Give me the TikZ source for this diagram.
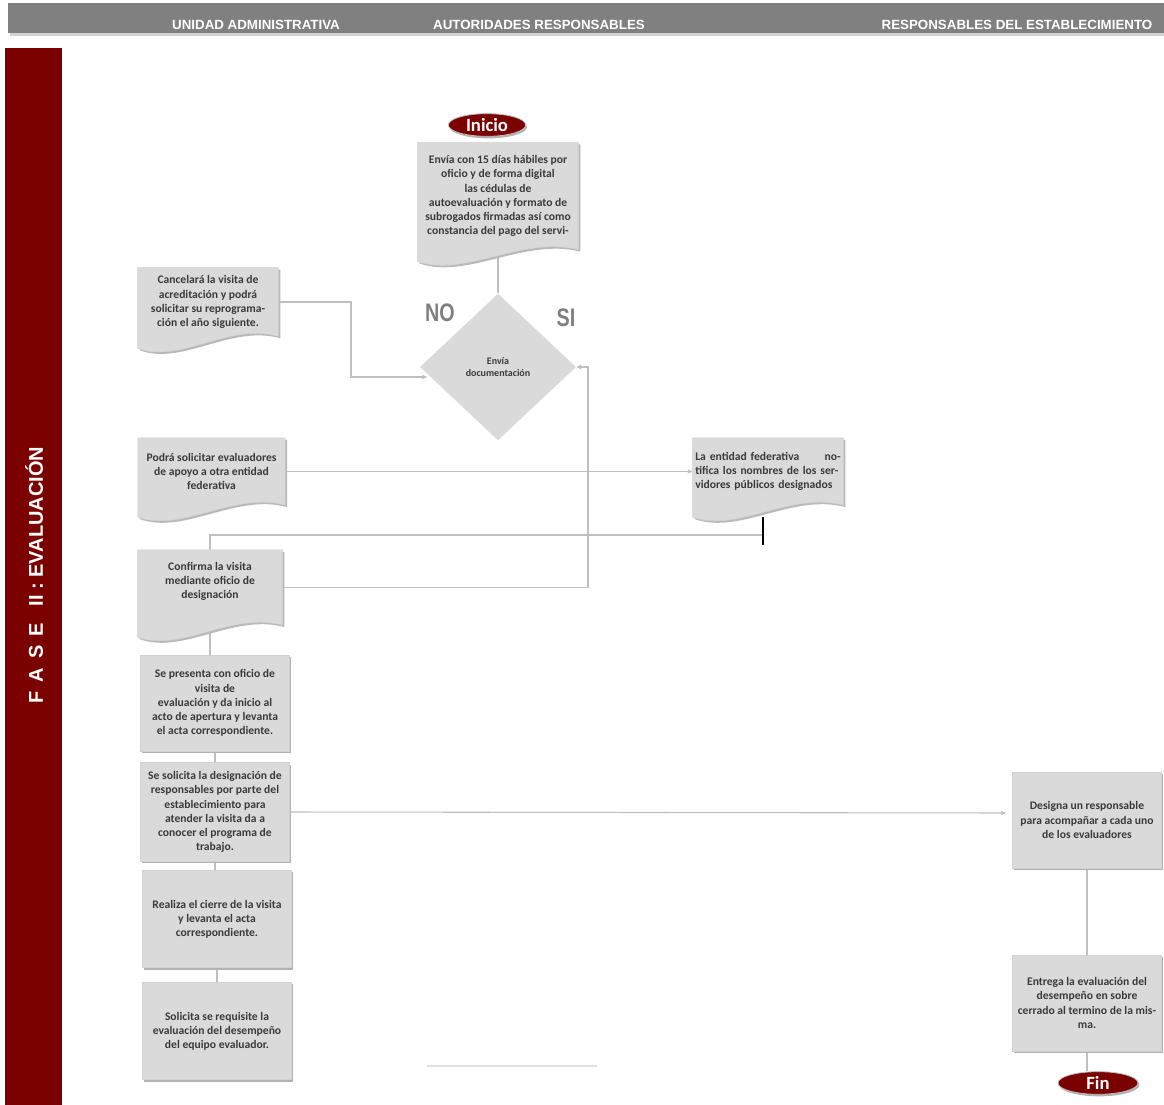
\documentclass[tikz,border=0pt]{standalone}
\usepackage{fontspec}
\setmainfont{Carlito}
\newfontfamily\hdrfont{Liberation Sans}
\usetikzlibrary{shapes.geometric,shadows,arrows.meta,calc}
\definecolor{fasered}{HTML}{7B0000}
\definecolor{boxgray}{HTML}{DADADA}
\definecolor{linegray}{HTML}{BFBFBF}
\definecolor{hdrgray}{HTML}{808080}
\definecolor{txtgray}{HTML}{3A3A3A}
\pgfdeclarelayer{conns}
\pgfdeclarelayer{docs}
\pgfsetlayers{conns,docs,main}
\tikzset{
  txt/.style={align=center, text=txtgray, inner sep=2pt,
    font=\fontsize{8.7}{10.6}\selectfont\bfseries},
  box/.style={txt, rectangle, fill=boxgray, draw=gray!35, line width=0.4pt,
    drop shadow={shadow xshift=1.2pt, shadow yshift=-1.5pt, fill=gray!60, opacity=1}},
  docbox/.style={txt, rectangle},
  term/.style={ellipse, fill=fasered, draw=gray!50, line width=0.6pt, text=white,
    font=\fontsize{14}{14}\selectfont\bfseries, minimum width=58pt, minimum height=17pt,
    inner sep=0pt, drop shadow={shadow xshift=1pt, shadow yshift=-1.5pt, fill=gray!60, opacity=1}},
  hdr/.style={text=white, font=\hdrfont\fontsize{10}{11}\selectfont\bfseries, inner sep=0pt},
  cline/.style={draw=linegray, line width=0.8pt},
  conn/.style={cline, -{Stealth[length=4pt,width=3.5pt]}},
  yn/.style={text=hdrgray, font=\hdrfont\fontsize{19}{19}\selectfont\bfseries, inner sep=0pt}
}
% document shape (rectangle part is the node; wavy bottom added below it)
\newcommand{\docshape}[1]{%
\begin{pgfonlayer}{docs}
\fill[gray!55] ($(#1.north west)+(2,2)$) -- ($(#1.north east)+(2,2)$) -- ($(#1.south east)+(2,2)$)
  .. controls ($(#1.south west)!0.65!(#1.south east)+(2,-12)$) and ($(#1.south west)!0.3!(#1.south east)+(2,30)$)
  .. ($(#1.south west)+(2,14)$) -- cycle;
\filldraw[fill=boxgray, draw=gray!35, line width=0.4pt] (#1.north west) -- (#1.north east) -- (#1.south east)
  .. controls ($(#1.south west)!0.65!(#1.south east)+(0,-14)$) and ($(#1.south west)!0.3!(#1.south east)+(0,28)$)
  .. ($(#1.south west)+(0,12)$) -- cycle;
\end{pgfonlayer}}
\begin{document}
\begin{tikzpicture}[x=0.75pt,y=-0.75pt]
\useasboundingbox (0,0) rectangle (1164,1105);
\begin{pgfonlayer}{conns}
\fill[white] (0,0) rectangle (1164,1105);
\end{pgfonlayer}
% header
\fill[gray!35] (10,5) rectangle (1164,36);
\fill[hdrgray] (8,3) rectangle (1164,33);
\node[hdr] (h1) at (256,24.5) {UNIDAD ADMINISTRATIVA};
\node[hdr] (h2) at (539,24.5) {AUTORIDADES RESPONSABLES};
\node[hdr] (h3) at (1017,24.5) {RESPONSABLES DEL ESTABLECIMIENTO};
% phase bar
\fill[fasered] (5,48) rectangle (62,1105);
\node[rotate=90, text=white, font=\hdrfont\fontsize{15}{15}\selectfont\bfseries] (fase) at (34,575)
  {F\, A\, S\, E \ \ II : EVALUACIÓN};
% nodes
\node[term] (ini) at (487,125) {Inicio};
\node[docbox, minimum width=120pt, minimum height=80pt] (d1) at (498,196)
  {Envía con 15 días hábiles por\\oficio y de forma digital\\las cédulas de\\autoevaluación y formato de\\subrogados firmadas así como\\constancia del pago del servi-};
\docshape{d1}
\node[diamond, fill=boxgray, minimum width=117pt, minimum height=110pt, inner sep=0pt,
  align=center, text=txtgray, font=\fontsize{7.5}{9}\selectfont\bfseries] (dia) at (498,367)
  {Envía\\documentación};
\node[yn] (no) at (440,313) {\scalebox{0.78}[1]{NO}};
\node[yn] (si) at (566,318) {\scalebox{0.78}[1]{SI}};
\node[docbox, minimum width=105pt, minimum height=51pt] (can) at (208,302)
  {Cancelará la visita de\\acreditación y podrá\\solicitar su reprograma-\\ción el año siguiente.};
\docshape{can}
\node[docbox, minimum width=110pt, minimum height=50pt] (pod) at (211.5,471.5)
  {Podrá solicitar evaluadores\\de apoyo a otra entidad\\federativa};
\docshape{pod}
\node[docbox, minimum width=112.5pt, minimum height=50pt, align=left, text width=109pt, inner xsep=1.5pt] (ent) at (768,471.5)
  {La entidad federativa\hfill no-\\tifica los nombres de los ser-\\vidores públicos designados};
\docshape{ent}
\node[docbox, minimum width=108pt, minimum height=56pt] (conf) at (210,587.5)
  {Confirma la visita\\mediante oficio de\\designación\\ \mbox{}};
\docshape{conf}
\node[box, minimum width=112pt, minimum height=72pt] (pre) at (215,703)
  {Se presenta con oficio de\\visita de\\evaluación y da inicio al\\acto de apertura y levanta\\el acta correspondiente.};
\node[box, minimum width=112pt, minimum height=74pt] (sol) at (215,812)
  {Se solicita la designación de\\responsables por parte del\\establecimiento para\\atender la visita da a\\conocer el programa de\\trabajo.};
\node[box, minimum width=112pt, minimum height=73pt] (rea) at (217,919)
  {Realiza el cierre de la visita\\y levanta el acta\\correspondiente.};
\node[box, minimum width=112pt, minimum height=73pt] (req) at (217,1031)
  {Solicita se requisite la\\evaluación del desempeño\\del equipo evaluador.};
\node[box, minimum width=112pt, minimum height=72pt] (des) at (1087,820)
  {Designa un responsable\\para acompañar a cada uno\\de los evaluadores};
\node[box, minimum width=112pt, minimum height=72pt] (ent2) at (1087,1003)
  {Entrega la evaluación del\\desempeño en sobre\\cerrado al termino de la mis-\\ma.};
\node[term, minimum width=60pt] (fin) at (1098,1083) {Fin};
% helper coordinates
\coordinate (cj) at (351,377);
\coordinate (dl) at (427,377);
\coordinate (sj) at (588,367);
\coordinate (ej) at (763,535);
\coordinate (et) at (763,517);
\coordinate (eb) at (763,545);
\coordinate (dw) at (1006,813);
% connectors
\begin{pgfonlayer}{conns}
\draw[cline] (d1.south) -- (dia.north);
\draw[conn] (can.east) -| (cj) -- (dl);
\draw[conn] (conf.east) -| (sj) -- (dia.east);
\draw[conn] (pod.east) -- (ent.west);
\draw[cline] (et) -- (ej) -| (conf.north);
\draw[cline] (conf.south) -- (conf.south |- pre.north);
\draw[cline] (pre.south) -- (sol.north);
\draw[conn] (sol.east) -- (dw);
\draw[cline] (sol.south) -- (sol.south |- rea.north);
\draw[cline] (rea.south) -- (req.north);
\draw[cline] (des.south) -- (ent2.north);
\draw[cline] (ent2.south) -- (ent2.south |- fin.north);
\end{pgfonlayer}
\draw[black, line width=1pt] (et) -- (eb);
\draw[gray!25, line width=0.8pt] (427,1066) -- (597,1066);
\end{tikzpicture}
\end{document}
